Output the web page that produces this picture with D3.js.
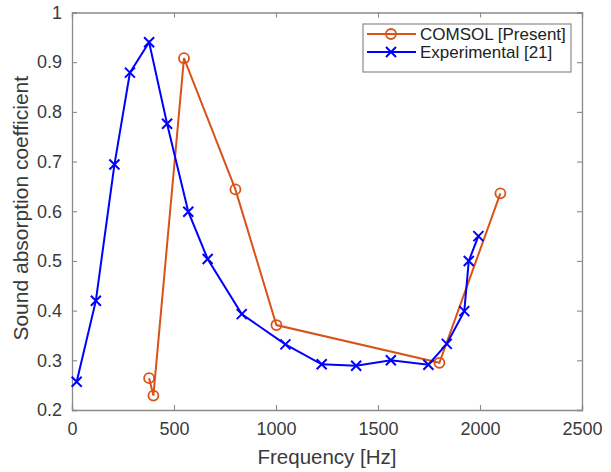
<!DOCTYPE html>
<html>
<head>
<meta charset="utf-8">
<script src="https://cdn.jsdelivr.net/npm/d3@7"></script>
<style>
  body { margin: 0; background: #fff; }
  text { font-family: "Liberation Sans", Arial, sans-serif; }
</style>
</head>
<body>
<div id="chart"></div>
<script>
// data
var comsolFreq = [378, 399, 549, 801, 1002, 1801, 2100];
var comsolAbs  = [0.264, 0.229, 0.908, 0.644, 0.371, 0.295, 0.636];

var expFreq = [23, 117, 208, 284, 378, 466, 570, 665, 832, 1046, 1224, 1393, 1563, 1747, 1837, 1923, 1945, 1992];
var expAbs  = [0.257, 0.42, 0.694, 0.879, 0.94, 0.776, 0.599, 0.504, 0.393, 0.332, 0.292, 0.289, 0.3, 0.291, 0.333, 0.399, 0.5, 0.55];

var xTicks = [0, 500, 1000, 1500, 2000, 2500];
var yTicks = [0.2, 0.3, 0.4, 0.5, 0.6, 0.7, 0.8, 0.9, 1];
var seriesNames = ["COMSOL [Present]", "Experimental [21]"];

var W = 611, H = 472;
var margin = {left: 72, top: 12.5, right: 29, bottom: 62};
var w = W - margin.left - margin.right;
var h = H - margin.top - margin.bottom;

var orange = "#D95319", blue = "#0000FF";
var axisColor = "#8a8a8a", textColor = "#3a3a3a";

var svg = d3.select("#chart").append("svg").attr("width", W).attr("height", H);
var g = svg.append("g").attr("transform", "translate(" + margin.left + "," + margin.top + ")");

var xScale = d3.scaleLinear().domain([0, 2500]).range([0, w]);
var yScale = d3.scaleLinear().domain([0.2, 1]).range([h, 0]);

var fmtY = function(d){ return d === 1 ? "1" : d3.format(".1f")(d); };

// axes, MATLAB style: ticks inward on all four sides
var xAxis = d3.axisBottom(xScale).tickValues(xTicks).tickSize(-5).tickPadding(12).tickFormat(d3.format("d"));
var yAxis = d3.axisLeft(yScale).tickValues(yTicks).tickSize(-5).tickPadding(10).tickFormat(fmtY);
var xTop = d3.axisTop(xScale).tickValues(xTicks).tickSize(-5).tickFormat("");
var yRight = d3.axisRight(yScale).tickValues(yTicks).tickSize(-5).tickFormat("");

var gx = g.append("g").attr("transform", "translate(0," + h + ")").call(xAxis);
var gy = g.append("g").call(yAxis);
var gt = g.append("g").call(xTop);
var gr = g.append("g").attr("transform", "translate(" + w + ",0)").call(yRight);

[gx, gy, gt, gr].forEach(function(a){
    a.selectAll(".domain").attr("stroke", axisColor).attr("stroke-width", 1.3);
    a.selectAll(".tick line").attr("stroke", axisColor).attr("stroke-width", 1.1);
    a.selectAll(".tick text").attr("fill", textColor).style("font-size", "18px");
});

// axis labels
g.append("text")
    .attr("x", w / 2)
    .attr("y", h + 54)
    .attr("text-anchor", "middle")
    .attr("fill", textColor)
    .style("font-size", "20.5px")
    .text("Frequency [Hz]");

svg.append("text")
    .attr("transform", "translate(28," + (margin.top + h / 2 - 3) + ") rotate(-90)")
    .attr("text-anchor", "middle")
    .attr("fill", textColor)
    .style("font-size", "21px")
    .text("Sound absorption coefficient");

var line = d3.line().x(function(d){ return xScale(d[0]); }).y(function(d){ return yScale(d[1]); });

var comsolData = comsolFreq.map(function(f, i){ return [f, comsolAbs[i]]; });
var expData = expFreq.map(function(f, i){ return [f, expAbs[i]]; });

var plot = g.append("g");

var drawCross = function(sel, cx, cy, s){
    sel.append("path")
        .attr("d", "M" + (cx - s) + "," + (cy - s) + "L" + (cx + s) + "," + (cy + s) +
                   "M" + (cx - s) + "," + (cy + s) + "L" + (cx + s) + "," + (cy - s))
        .attr("stroke", blue).attr("stroke-width", 2).attr("fill", "none");
};

plot.append("path").datum(comsolData).attr("d", line)
    .attr("fill", "none").attr("stroke", orange).attr("stroke-width", 2);
plot.selectAll("circle.comsol").data(comsolData).enter().append("circle")
    .attr("class", "comsol")
    .attr("cx", function(d){ return xScale(d[0]); })
    .attr("cy", function(d){ return yScale(d[1]); })
    .attr("r", 5)
    .attr("fill", "none").attr("stroke", orange).attr("stroke-width", 1.8);

plot.append("path").datum(expData).attr("d", line)
    .attr("fill", "none").attr("stroke", blue).attr("stroke-width", 2);
var crosses = plot.append("g");
expData.forEach(function(d){
    drawCross(crosses, xScale(d[0]), yScale(d[1]), 5);
});

// legend
var legend = svg.append("g").attr("transform", "translate(363,24)");
legend.append("rect").attr("width", 208).attr("height", 48)
    .attr("fill", "#fff").attr("stroke", axisColor).attr("stroke-width", 1.2);

var rowY = [10, 28];
seriesNames.forEach(function(name, i){
    var col = i === 0 ? orange : blue;
    legend.append("line").attr("x1", 4).attr("x2", 53).attr("y1", rowY[i]).attr("y2", rowY[i])
        .attr("stroke", col).attr("stroke-width", 2);
    if (i === 0) {
        legend.append("circle").attr("cx", 28).attr("cy", rowY[i]).attr("r", 5)
            .attr("fill", "none").attr("stroke", col).attr("stroke-width", 1.8);
    } else {
        drawCross(legend, 28, rowY[i], 5);
    }
    legend.append("text").attr("x", 57).attr("y", rowY[i]).attr("dy", "0.35em")
        .attr("fill", "#222").style("font-size", "17px").text(name);
});
</script>
</body>
</html>
